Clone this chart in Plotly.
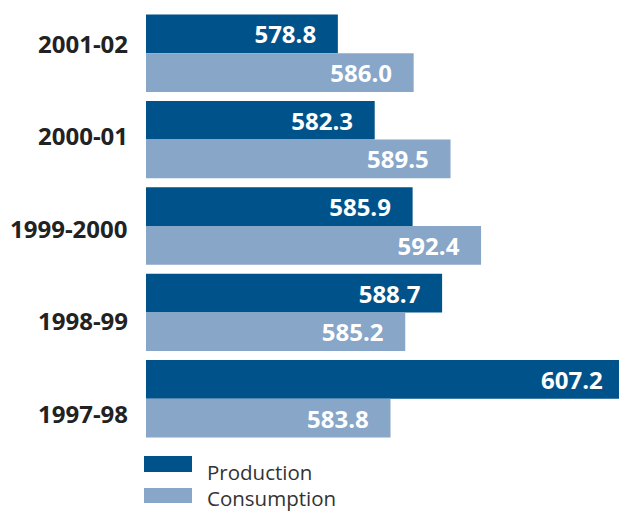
import plotly.graph_objects as go

years = ["2001-02", "2000-01", "1999-2000", "1998-99", "1997-98"]
production = [578.8, 582.3, 585.9, 588.7, 607.2]
consumption = [586.0, 589.5, 592.4, 585.2, 583.8]
series_names = ["Production", "Consumption"]

DARK = "#00538A"
LIGHT = "#88A6C8"
W, H = 619, 512
ML, MR, MT, MB = 146, 0, 10, 70
PW, PH = W - ML - MR, H - MT - MB

# trailing padding (non-breaking spaces) inside each bar's end
prod_pad = [3, 3, 3, 3, 5]
cons_pad = [3, 3, 3, 3, 3]

fig = go.Figure()
for name, vals, col, pads in [(series_names[0], production, DARK, prod_pad),
                              (series_names[1], consumption, LIGHT, cons_pad)]:
    fig.add_trace(go.Bar(
        y=years, x=vals, name=name, orientation="h",
        marker=dict(color=col, line=dict(width=0)),
        text=[f"{v:.1f}" + "\u00a0" * p for v, p in zip(vals, pads)],
        textposition="inside", insidetextanchor="end",
        textangle=0, constraintext="none",
        textfont=dict(family="Open Sans", size=24, color="white", weight="bold"),
        showlegend=False, cliponaxis=True,
    ))

def px2paper(px, py):
    return (px - ML) / PW, (MT + PH - py) / PH

# category labels as annotations (offsets as in the original artwork)
label_shift = [9.5, 4, -2.5, -8, -14.5]
for yr, sh in zip(years, label_shift):
    fig.add_annotation(x=0, xref="paper", y=yr, yref="y", text=yr,
                       showarrow=False, xanchor="right", yanchor="middle",
                       xshift=-16, yshift=sh,
                       font=dict(family="Open Sans", size=24, color="#222222", weight="bold"))

# legend drawn manually (large swatches)
legend_rows = [(456, 472, 472, DARK), (488, 503, 498, LIGHT)]
for (top, bot, tc, col), name in zip(legend_rows, series_names):
    x0, y1 = px2paper(144, top)
    x1, y0 = px2paper(192, bot)
    fig.add_shape(type="rect", xref="paper", yref="paper", x0=x0, x1=x1, y0=y0, y1=y1,
                  fillcolor=col, line=dict(width=0))
    tx, ty = px2paper(205, tc)
    fig.add_annotation(x=tx, y=ty, xref="paper", yref="paper", text=name,
                       showarrow=False, xanchor="left", yanchor="middle",
                       font=dict(family="Open Sans", size=20.5, color="#333333"))

base = 560.58
scale = 10.53
fig.update_layout(
    width=W, height=H,
    margin=dict(l=ML, r=MR, t=MT, b=MB, pad=0),
    barmode="group", bargap=0.104, bargroupgap=0,
    plot_bgcolor="white", paper_bgcolor="white",
    xaxis=dict(range=[base, base + PW / scale], visible=False, fixedrange=True),
    yaxis=dict(type="category", categoryorder="array", categoryarray=years, range=[4.5, -0.5],
               showticklabels=False, showgrid=False, zeroline=False, showline=False),
)

fig.write_html("out.html")
